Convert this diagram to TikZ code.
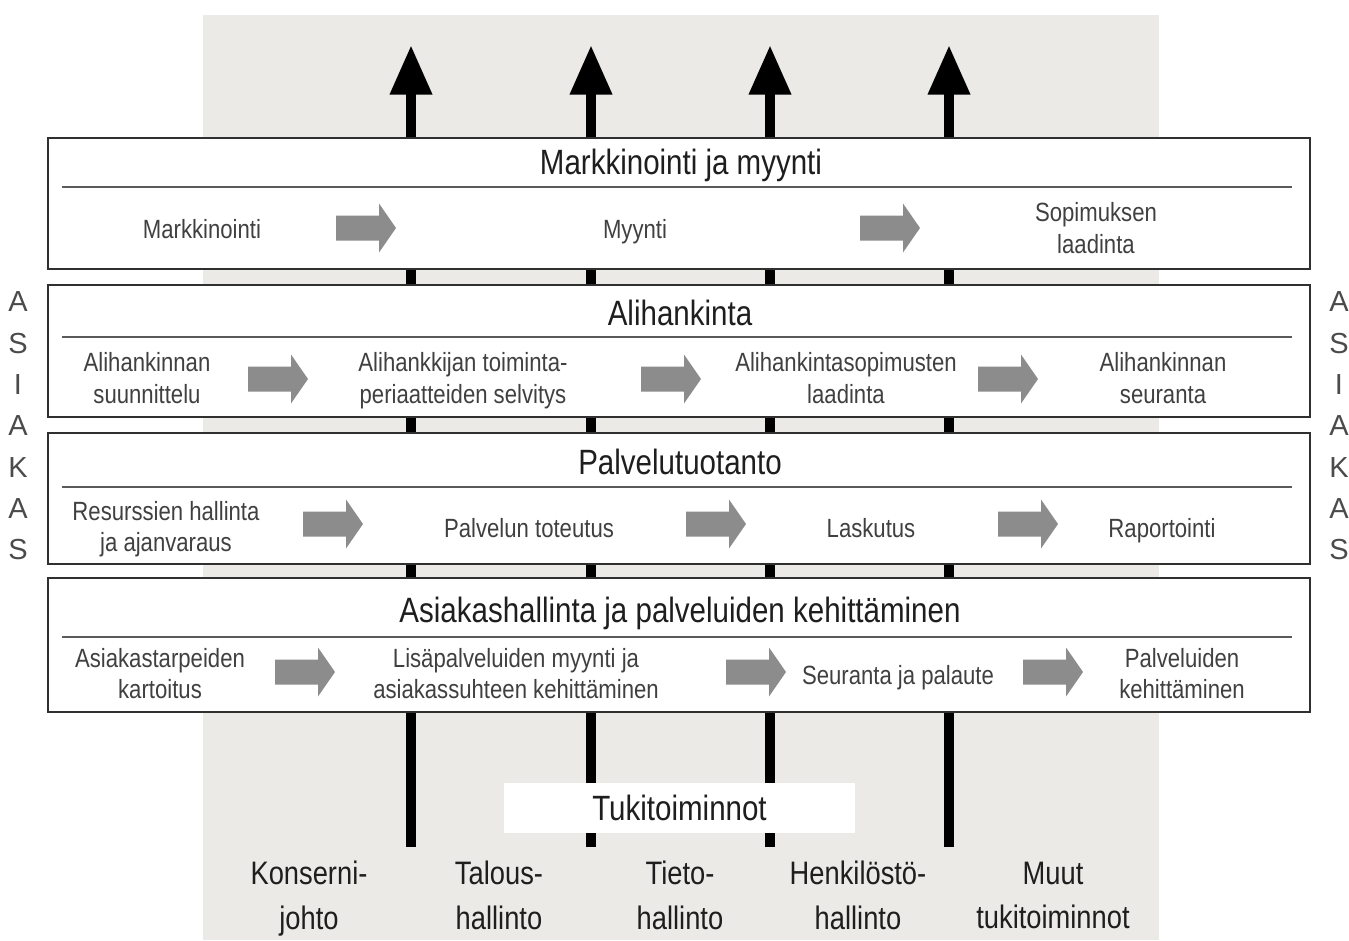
\documentclass[tikz,border=0pt]{standalone}
\usepackage{fontspec}
\setmainfont{Liberation Sans}[FakeStretch=0.84]
\newfontfamily\sidefont{Liberation Sans}
\usetikzlibrary{arrows.meta}
\definecolor{paper}{HTML}{ECEAE6}
\definecolor{ink}{HTML}{1E1E1E}
\definecolor{frame}{HTML}{303030}
\definecolor{flowgray}{HTML}{8C8C8C}
\definecolor{rulegray}{HTML}{5A5A5A}

\begin{document}
\begin{tikzpicture}[x=0.02cm,y=-0.02cm,
  lane/.style={draw=frame,fill=white,line width=1.1pt},
  divider/.style={draw=rulegray,line width=0.9pt},
  lanetitle/.style={text=ink,font=\fontsize{20}{24}\selectfont,inner sep=0pt},
  item/.style={text=ink!85,font=\fontsize{15}{18}\selectfont,align=center,inner sep=0pt,
    execute at begin node=\strut,execute at end node=\strut},
  support/.style={line width=6pt,draw=black,-{Triangle[width=22.7pt,length=28.3pt]}},
  unit/.style={text=ink,font=\fontsize{18.5}{25.5}\selectfont,align=center,inner sep=0pt,
    execute at begin node=\strut,execute at end node=\strut},
  side/.style={text=ink!80,font=\sidefont\fontsize{16.5}{23.5}\selectfont,align=center,inner sep=0pt},
  flow/.pic={\fill[flowgray] (0,-12.5)--(43,-12.5)--(43,-24.5)--(60,0)--(43,24.5)--(43,12.5)--(0,12.5)--cycle;}
]
\useasboundingbox (0,0) rectangle (1349,940);

% grey backdrop of the support functions
\fill[paper] (203,15) rectangle (1159,940);

% support function pillars
\foreach \n/\x in {1/411,2/591,3/770,4/949}{
  \coordinate (s\n b) at (\x,847);
  \coordinate (s\n t) at (\x,45);
}
\foreach \n in {1,...,4}{\draw[support] (s\n b) -- (s\n t);}

% process lanes
\draw[lane] (48,138) rectangle (1310,269);
\draw[lane] (48,285) rectangle (1310,417);
\draw[lane] (48,433) rectangle (1310,564);
\draw[lane] (48,578) rectangle (1310,712);
\foreach \y in {187,337,487,637}{\draw[divider] (62,\y) -- (1292,\y);}

% lane 1
\node[lanetitle] (t1) at (681,165) {Markkinointi ja myynti};
\node[item] (m1) at (202,232) {Markkinointi};
\node[item] (m2) at (635,232) {Myynti};
\node[item] (m3) at (1096,233) {Sopimuksen\\laadinta};
\pic (fm1) at (336,228) {flow};
\pic (fm2) at (860,228) {flow};

% lane 2
\node[lanetitle] (t2) at (680,313) {Alihankinta};
\node[item] (a1) at (147,383) {Alihankinnan\\suunnittelu};
\node[item] (a2) at (463,383) {Alihankkijan toiminta-\\periaatteiden selvitys};
\node[item] (a3) at (846,383) {Alihankintasopimusten\\laadinta};
\node[item] (a4) at (1163,383) {Alihankinnan\\seuranta};
\pic (fa1) at (248,379) {flow};
\pic (fa2) at (641,379) {flow};
\pic (fa3) at (978,379) {flow};

% lane 3
\node[lanetitle] (t3) at (680,462) {Palvelutuotanto};
\node[item] (p1) at (166,531) {Resurssien hallinta\\ja ajanvaraus};
\node[item] (p2) at (529,531) {Palvelun toteutus};
\node[item] (p3) at (871,531) {Laskutus};
\node[item] (p4) at (1162,531) {Raportointi};
\pic (fp1) at (303,524) {flow};
\pic (fp2) at (686,524) {flow};
\pic (fp3) at (998,524) {flow};

% lane 4
\node[lanetitle] (t4) at (680,613) {Asiakashallinta ja palveluiden kehittäminen};
\node[item] (k1) at (160,678) {Asiakastarpeiden\\kartoitus};
\node[item] (k2) at (516,678) {Lisäpalveluiden myynti ja\\asiakassuhteen kehittäminen};
\node[item] (k3) at (898,678) {Seuranta ja palaute};
\node[item] (k4) at (1182,678) {Palveluiden\\kehittäminen};
\pic (fk1) at (275,672) {flow};
\pic (fk2) at (726,672) {flow};
\pic (fk3) at (1023,672) {flow};

% support functions caption
\node[lanetitle,fill=white,minimum width=7.02cm,minimum height=1cm] (tuki) at (679.5,808) {Tukitoiminnot};

% support function names
\node[unit] (u1) at (309,902) {Konserni-\\johto};
\node[unit] (u2) at (499,902) {Talous-\\hallinto};
\node[unit] (u3) at (680,902) {Tieto-\\hallinto};
\node[unit] (u4) at (858,902) {Henkilöstö-\\hallinto};
\node[unit] (u5) at (1053,902) {Muut\\tukitoiminnot};

% customer on both sides
\node[side] (asL) at (18,426) {A\\S\\I\\A\\K\\A\\S};
\node[side] (asR) at (1339,426) {A\\S\\I\\A\\K\\A\\S};
\end{tikzpicture}
\end{document}
